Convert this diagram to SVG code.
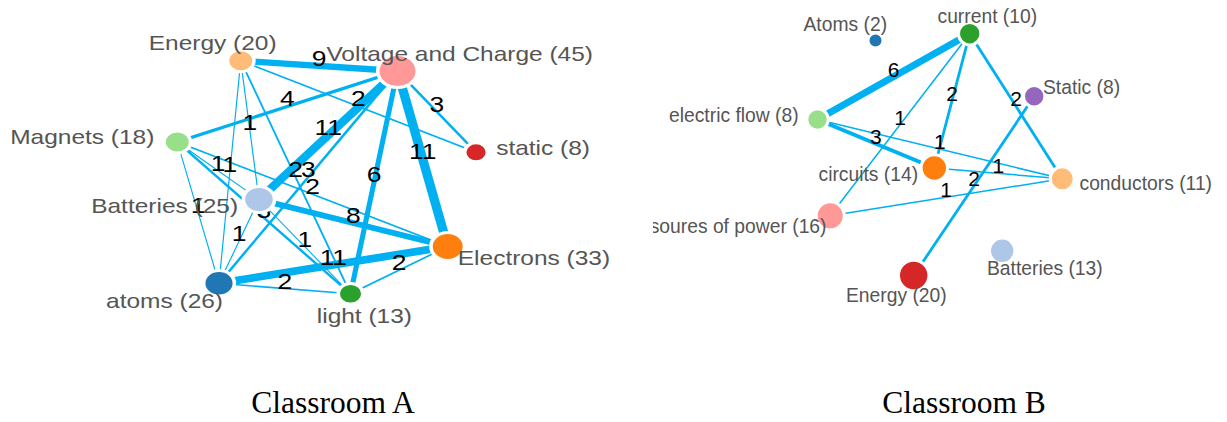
<svg xmlns="http://www.w3.org/2000/svg" width="1227" height="422" viewBox="0 0 1227 422">
<style>
.bg{fill:#fff}
.lk line{stroke:#00b0f0;stroke-linecap:butt}
.a1{stroke-width:1}.a2{stroke-width:1.6}.a3{stroke-width:2.2}.a4{stroke-width:3.2}.a6{stroke-width:4.3}.a8{stroke-width:5.7}.a9{stroke-width:6.3}.a11{stroke-width:7.7}
.b1{stroke-width:1.5}.b2{stroke-width:2.8}.b3{stroke-width:4}.b6{stroke-width:7}
.el{font-family:"Liberation Sans",Arial,sans-serif;fill:#000;text-anchor:middle}
.elA{font-size:22px}.elB{font-size:21px}
.nd circle{stroke:#fff;stroke-width:3}
.nl{font-family:"Liberation Sans",Arial,sans-serif;fill:#555}
.nlA{font-size:20.4px}.nlB{font-size:19.3px}
.cap{font-family:"Liberation Serif","Times New Roman",serif;font-size:31.5px;fill:#000;text-anchor:middle}
</style>
<defs>
<clipPath id="clipB"><rect x="653" y="0" width="574" height="422"/></clipPath>
</defs>
<rect class="bg" x="0" y="0" width="1227" height="422"/>

<g id="classroomA" transform="scale(1.2,1)">
<g id="linksA" class="lk">
<line class="a9" x1="200.6" y1="60.7" x2="331.25" y2="71"/>
<line class="a2" x1="200.6" y1="60.7" x2="396.7" y2="152.3"/>
<line class="a1" x1="200.6" y1="60.7" x2="215.8" y2="199.5"/>
<line class="a1" x1="200.6" y1="60.7" x2="182.5" y2="283.3"/>
<line class="a2" x1="200.6" y1="60.7" x2="292.1" y2="293.8"/>
<line class="a4" x1="147.75" y1="142" x2="331.25" y2="71"/>
<line class="a1" x1="147.75" y1="142" x2="215.8" y2="199.5"/>
<line class="a1" x1="147.75" y1="142" x2="182.5" y2="283.3"/>
<line class="a3" x1="147.75" y1="142" x2="292.1" y2="293.8"/>
<line class="a2" x1="147.75" y1="142" x2="373.1" y2="246.5"/>
<line class="a3" x1="331.25" y1="71" x2="396.7" y2="152.3"/>
<line class="a11" x1="331.25" y1="71" x2="215.8" y2="199.5"/>
<line class="a3" x1="331.25" y1="71" x2="182.5" y2="283.3"/>
<line class="a6" x1="331.25" y1="71" x2="292.1" y2="293.8"/>
<line class="a11" x1="331.25" y1="71" x2="373.1" y2="246.5"/>
<line class="a8" x1="215.8" y1="199.5" x2="373.1" y2="246.5"/>
<line class="a1" x1="215.8" y1="199.5" x2="182.5" y2="283.3"/>
<line class="a1" x1="215.8" y1="199.5" x2="292.1" y2="293.8"/>
<line class="a2" x1="182.5" y1="283.3" x2="292.1" y2="293.8"/>
<line class="a11" x1="182.5" y1="283.3" x2="373.1" y2="246.5"/>
<line class="a2" x1="292.1" y1="293.8" x2="373.1" y2="246.5"/>
</g>
<g id="linkLabelsA" class="el elA">
<text x="265.9" y="66.5">9</text>
<text x="298.65" y="106.5">2</text>
<text x="208.2" y="130.1">1</text>
<text x="191.55" y="172">1</text>
<text x="246.35" y="177.25">2</text>
<text x="239.5" y="106.5">4</text>
<text x="181.8" y="170.75">1</text>
<text x="165.1" y="212.65">1</text>
<text x="219.9" y="217.9">3</text>
<text x="260.4" y="194.25">2</text>
<text x="364" y="111.65">3</text>
<text x="273.5" y="135.25">11</text>
<text x="256.9" y="177.15">3</text>
<text x="311.7" y="182.4">6</text>
<text x="352.2" y="158.75">11</text>
<text x="294.45" y="223">8</text>
<text x="199.15" y="241.4">1</text>
<text x="253.95" y="246.65">1</text>
<text x="237.3" y="288.55">2</text>
<text x="277.8" y="264.9">11</text>
<text x="332.6" y="270.15">2</text>
</g>
<g id="nodeA-energy" class="nd"><circle cx="200.6" cy="60.7" r="11" fill="#ffbb78"/><text class="nl nlA" x="124" y="50">Energy (20)</text></g>
<g id="nodeA-voltage" class="nd"><circle cx="331.25" cy="71" r="16.5" fill="#ff9896"/><text class="nl nlA" x="272" y="60.7">Voltage and Charge (45)</text></g>
<g id="nodeA-static" class="nd"><circle cx="396.7" cy="152.3" r="9.5" fill="#d62728"/><text class="nl nlA" x="413.5" y="155">static (8)</text></g>
<g id="nodeA-magnets" class="nd"><circle cx="147.75" cy="142" r="11" fill="#98df8a"/><text class="nl nlA" x="8.5" y="144.3">Magnets (18)</text></g>
<g id="nodeA-batteries" class="nd"><circle cx="215.8" cy="199.5" r="13" fill="#aec7e8"/><text class="nl nlA" x="76" y="213.3">Batteries (25)</text></g>
<g id="nodeA-electrons" class="nd"><circle cx="373.1" cy="246.5" r="14" fill="#ff7f0e"/><text class="nl nlA" x="381.5" y="265">Electrons (33)</text></g>
<g id="nodeA-atoms" class="nd"><circle cx="182.5" cy="283.3" r="12.8" fill="#1f77b4"/><text class="nl nlA" x="88.4" y="308.3">atoms (26)</text></g>
<g id="nodeA-light" class="nd"><circle cx="292.1" cy="293.8" r="10.3" fill="#2ca02c"/><text class="nl nlA" x="264" y="322.7">light (13)</text></g>
</g>

<g id="classroomB" clip-path="url(#clipB)">
<g id="linksB" class="lk">
<line class="b6" x1="969.7" y1="33.7" x2="817.5" y2="119.5"/>
<line class="b3" x1="817.5" y1="119.5" x2="934.3" y2="168"/>
<line class="b2" x1="969.7" y1="33.7" x2="934.3" y2="168"/>
<line class="b1" x1="969.7" y1="33.7" x2="830.2" y2="215.8"/>
<line class="b1" x1="817.5" y1="119.5" x2="1062.2" y2="178.8"/>
<line class="b2" x1="969.7" y1="33.7" x2="1062.2" y2="178.8"/>
<line class="b1" x1="934.3" y1="168" x2="1062.2" y2="178.8"/>
<line class="b1" x1="830.2" y1="215.8" x2="1062.2" y2="178.8"/>
<line class="b2" x1="1034.2" y1="96.3" x2="913.7" y2="275.5"/>
</g>
<g id="linkLabelsB" class="el elB">
<text x="893.6" y="76.6">6</text>
<text x="875.9" y="143.8">3</text>
<text x="952" y="100.9">2</text>
<text x="900" y="124.8">1</text>
<text x="939.9" y="149.2">1</text>
<text x="1016" y="106.3">2</text>
<text x="998.3" y="173.4">1</text>
<text x="946.2" y="197.3">1</text>
<text x="974" y="185.9">2</text>
</g>
<g id="nodeB-atoms" class="nd"><circle cx="875.5" cy="40.5" r="7.5" fill="#1f77b4"/><text class="nl nlB" x="803.5" y="31">Atoms (2)</text></g>
<g id="nodeB-current" class="nd"><circle cx="969.7" cy="33.7" r="11.2" fill="#2ca02c"/><text class="nl nlB" x="937.5" y="23.3">current (10)</text></g>
<g id="nodeB-static" class="nd"><circle cx="1034.2" cy="96.3" r="10.7" fill="#9467bd"/><text class="nl nlB" x="1043" y="94.3">Static (8)</text></g>
<g id="nodeB-electricflow" class="nd"><circle cx="817.5" cy="119.5" r="10.7" fill="#98df8a"/><text class="nl nlB" x="669" y="121.7">electric flow (8)</text></g>
<g id="nodeB-circuits" class="nd"><circle cx="934.3" cy="168" r="13.2" fill="#ff7f0e"/><text class="nl nlB" x="818.5" y="180.7">circuits (14)</text></g>
<g id="nodeB-conductors" class="nd"><circle cx="1062.2" cy="178.8" r="12" fill="#ffbb78"/><text class="nl nlB" x="1079.5" y="190">conductors (11)</text></g>
<g id="nodeB-soures" class="nd"><circle cx="830.2" cy="215.8" r="14" fill="#ff9896"/><text class="nl nlB" x="826.5" y="233.3" text-anchor="end">soures of power (16)</text></g>
<g id="nodeB-energy" class="nd"><circle cx="913.7" cy="275.5" r="15.2" fill="#d62728"/><text class="nl nlB" x="846" y="301.7">Energy (20)</text></g>
<g id="nodeB-batteries" class="nd"><circle cx="1002.2" cy="250.8" r="12.7" fill="#aec7e8"/><text class="nl nlB" x="987" y="275">Batteries (13)</text></g>
</g>

<g id="captions">
<text class="cap" x="333" y="413">Classroom A</text>
<text class="cap" x="964" y="413">Classroom B</text>
</g>
</svg>
